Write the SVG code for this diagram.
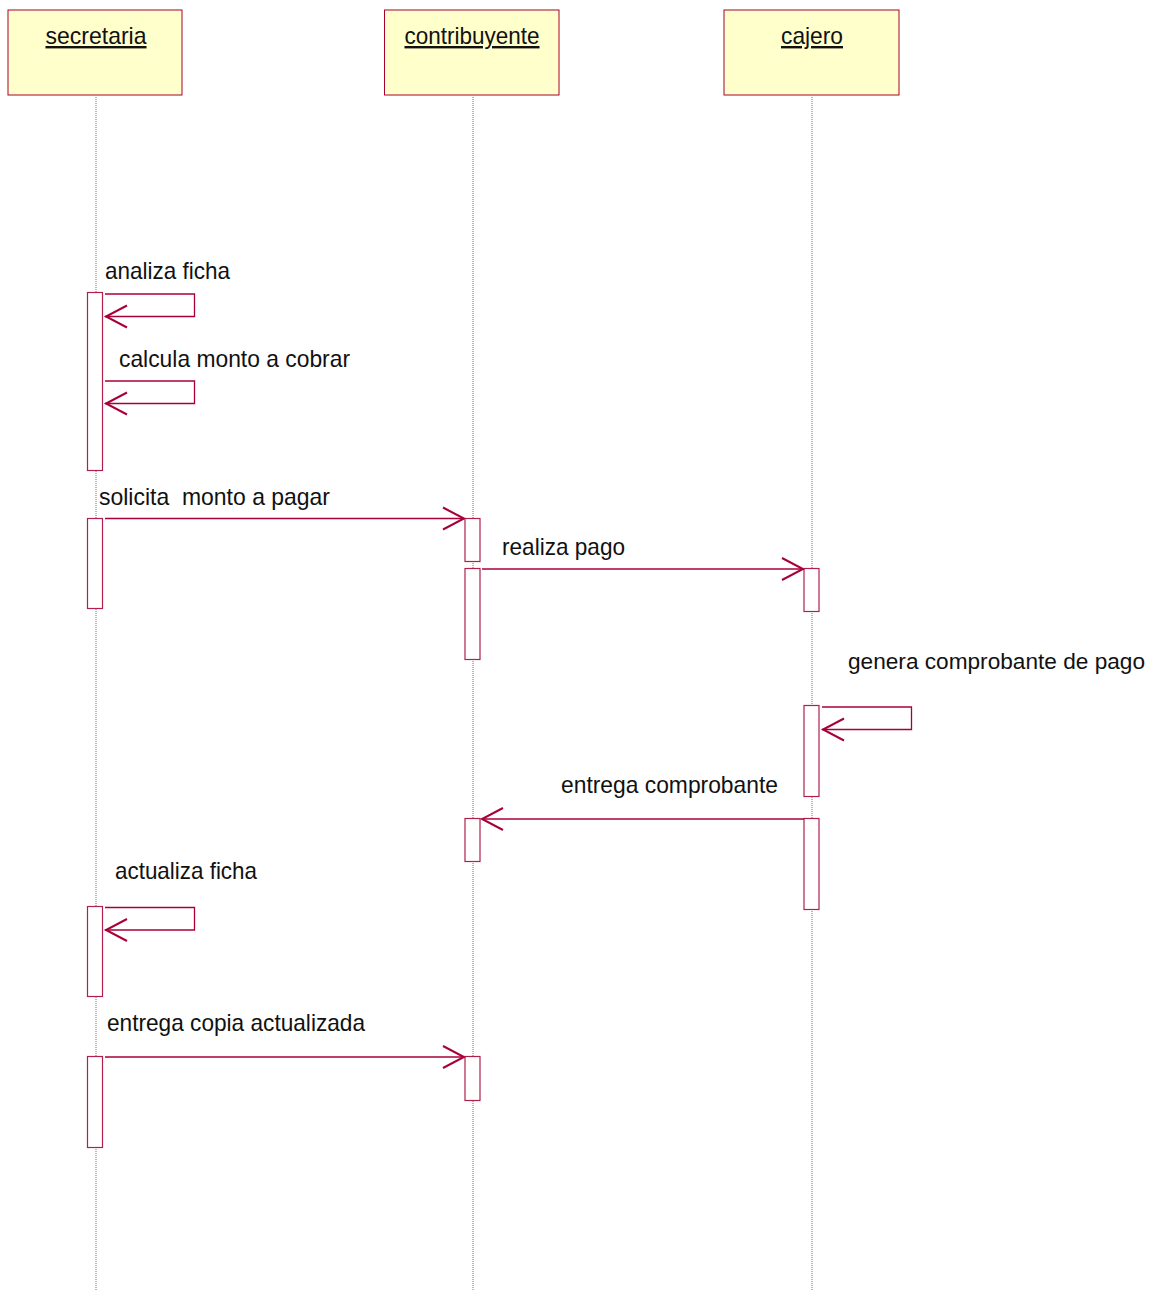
<svg xmlns="http://www.w3.org/2000/svg" width="1159" height="1290" viewBox="0 0 1159 1290">
  <defs>
    <style>
      .obj { fill: #FFFFCC; stroke: #A8002F; stroke-width: 1; }
      .life { stroke: #707070; stroke-width: 1; stroke-dasharray: 1 1; fill: none; }
      .act { fill: #FFFFFF; stroke: #B0204A; stroke-width: 1.2; }
      .msg { fill: none; stroke: #A8003A; stroke-width: 1.3; }
      .head { fill: none; stroke: #A8003A; stroke-width: 2; }
      text { font-family: "Liberation Sans", Arial, sans-serif; font-size: 24px; fill: #111111; }
      .title { text-anchor: middle; text-decoration: underline; }
    </style>
  </defs>

  <!-- lifelines -->
  <g id="lifelines">
    <line class="life" x1="96" y1="97" x2="96" y2="1290"/>
    <line class="life" x1="473" y1="97" x2="473" y2="1290"/>
    <line class="life" x1="812" y1="97" x2="812" y2="1290"/>
  </g>

  <!-- participants -->
  <g id="secretaria">
    <rect class="obj" x="8" y="10" width="174" height="85"/>
    <text class="title" x="96" y="44" textLength="101" lengthAdjust="spacingAndGlyphs">secretaria</text>
  </g>
  <g id="contribuyente">
    <rect class="obj" x="384.5" y="10" width="174.5" height="85"/>
    <text class="title" x="472" y="44" textLength="135" lengthAdjust="spacingAndGlyphs">contribuyente</text>
  </g>
  <g id="cajero">
    <rect class="obj" x="724" y="10" width="175" height="85"/>
    <text class="title" x="812" y="44" textLength="62" lengthAdjust="spacingAndGlyphs">cajero</text>
  </g>

  <!-- activation bars -->
  <g id="activations">
    <rect class="act" x="87.5" y="292.5" width="15" height="178"/>
    <rect class="act" x="87.5" y="518.5" width="15" height="90"/>
    <rect class="act" x="87.5" y="906.5" width="15" height="90"/>
    <rect class="act" x="87.5" y="1056.5" width="15" height="91"/>
    <rect class="act" x="465" y="518.5" width="15" height="43"/>
    <rect class="act" x="465" y="568.5" width="15" height="91"/>
    <rect class="act" x="465" y="818.5" width="15" height="43"/>
    <rect class="act" x="465" y="1056.5" width="15" height="44"/>
    <rect class="act" x="804" y="568.5" width="15" height="43"/>
    <rect class="act" x="804" y="705.5" width="15" height="91"/>
    <rect class="act" x="804" y="818.5" width="15" height="91"/>
  </g>

  <!-- messages -->
  <g id="connectors">
    <!-- analiza ficha -->
    <polyline class="msg" points="105,294 194.5,294 194.5,316.5 105,316.5"/>
    <polyline class="head" points="127,305.5 106,316.5 127,327.5"/>
    <!-- calcula monto a cobrar -->
    <polyline class="msg" points="105,381 194.5,381 194.5,403.5 105,403.5"/>
    <polyline class="head" points="127,392.5 106,403.5 127,414.5"/>
    <!-- solicita monto a pagar -->
    <line class="msg" x1="105" y1="518.5" x2="464" y2="518.5"/>
    <polyline class="head" points="443,507.5 464,518.5 443,529.5"/>
    <!-- realiza pago -->
    <line class="msg" x1="482" y1="569" x2="803" y2="569"/>
    <polyline class="head" points="782,558 803,569 782,580"/>
    <!-- genera comprobante de pago -->
    <polyline class="msg" points="822,707 911.5,707 911.5,729.5 822,729.5"/>
    <polyline class="head" points="844,718.5 823,729.5 844,740.5"/>
    <!-- entrega comprobante -->
    <line class="msg" x1="804" y1="819" x2="482" y2="819"/>
    <polyline class="head" points="503,808 482,819 503,830"/>
    <!-- actualiza ficha -->
    <polyline class="msg" points="105,907.5 194.5,907.5 194.5,930 105,930"/>
    <polyline class="head" points="127,919 106,930 127,941"/>
    <!-- entrega copia actualizada -->
    <line class="msg" x1="105" y1="1057" x2="464" y2="1057"/>
    <polyline class="head" points="443,1046 464,1057 443,1068"/>
  </g>

  <!-- message labels -->
  <g id="labels">
    <text x="105" y="279" textLength="125" lengthAdjust="spacingAndGlyphs">analiza ficha</text>
    <text x="119" y="367" textLength="231" lengthAdjust="spacingAndGlyphs">calcula monto a cobrar</text>
    <text x="99" y="505" xml:space="preserve" textLength="231" lengthAdjust="spacingAndGlyphs">solicita  monto a pagar</text>
    <text x="502" y="555" textLength="123" lengthAdjust="spacingAndGlyphs">realiza pago</text>
    <text x="848" y="669" style="font-size:22.5px" textLength="297" lengthAdjust="spacingAndGlyphs">genera comprobante de pago</text>
    <text x="561" y="793" textLength="217" lengthAdjust="spacingAndGlyphs">entrega comprobante</text>
    <text x="115" y="879" textLength="142" lengthAdjust="spacingAndGlyphs">actualiza ficha</text>
    <text x="107" y="1031" textLength="258" lengthAdjust="spacingAndGlyphs">entrega copia actualizada</text>
  </g>
</svg>
